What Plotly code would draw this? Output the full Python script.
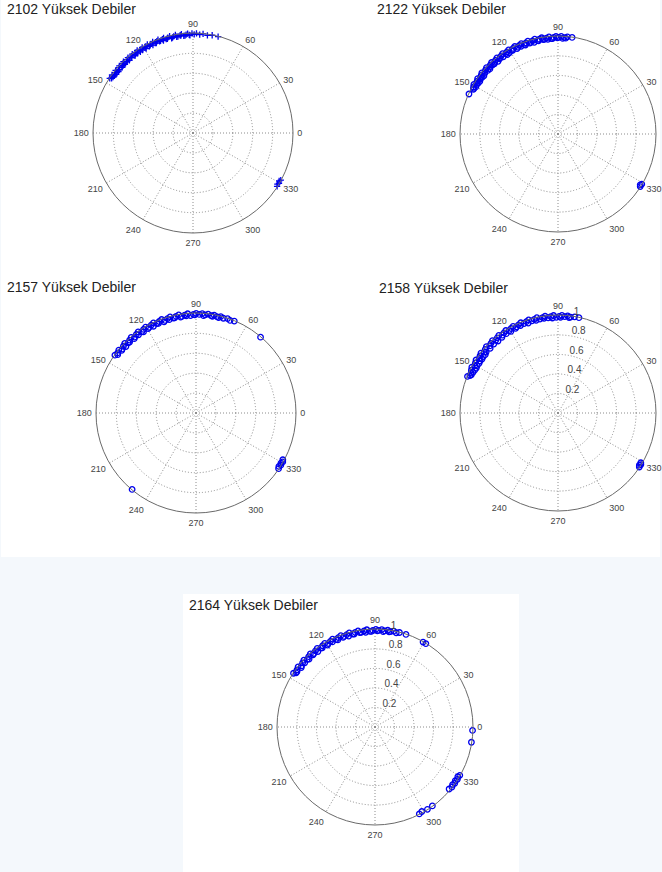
import plotly.graph_objects as go

W, H = 662, 872

# ---------------- data (angles in degrees, rho on 0..1 scale) ----------------
titles = ["2102 Yüksek Debiler", "2122 Yüksek Debiler", "2157 Yüksek Debiler",
          "2158 Yüksek Debiler", "2164 Yüksek Debiler"]

theta_2102 = [75.4, 78.9, 81.6, 84.2, 86.1, 88.0, 89.3, 90.6, 91.8, 93.1, 94.0, 95.4, 96.7,
              97.5, 98.9, 100.2, 101.3, 102.1, 103.6, 104.8, 105.9, 107.2, 108.1, 109.4,
              110.6, 111.5, 112.8, 113.9, 115.2, 116.0, 117.3, 118.6, 119.4, 120.7, 121.9,
              122.8, 124.1, 125.3, 126.2, 127.6, 128.7, 129.5, 130.8, 132.0, 133.1, 134.3,
              135.2, 136.6, 137.7, 138.5, 139.9, 141.0, 142.2, 143.1, 144.4, 145.6, 146.7,
              92.2, 94.7, 97.1, 99.6, 102.7, 105.2, 107.7, 110.0, 112.2, 114.5, 116.7, 119.0,
              121.3, 123.0, 124.7, 126.9, 129.1, 131.2, 132.6, 134.8, 136.0, 137.2, 139.2,
              140.5, 141.6, 142.7, 144.0, 145.0, 146.1,
              327.6, 328.8, 329.7, 330.9, 331.8]
rho_2102 = [1.0, 1.0, 0.99, 1.0, 0.99, 1.0, 0.99, 1.0, 0.98, 1.0, 0.99, 0.98, 1.0,
            0.99, 0.98, 1.0, 0.99, 0.98, 1.0, 0.99, 0.98, 1.0, 0.99, 0.98,
            1.0, 0.99, 0.98, 1.0, 0.99, 0.98, 1.0, 0.99, 0.98, 1.0, 0.99,
            0.98, 1.0, 0.99, 0.98, 1.0, 0.99, 0.98, 1.0, 0.99, 0.98, 1.0,
            0.99, 0.98, 1.0, 0.99, 0.98, 1.0, 0.99, 0.98, 1.0, 0.99, 1.0,
            0.985, 0.98, 0.985, 0.98, 0.975, 0.98, 0.975, 0.98, 0.975, 0.97, 0.975, 0.97,
            0.975, 0.97, 0.975, 0.97, 0.975, 0.97, 0.975, 0.97, 0.975, 0.97, 0.975,
            0.97, 0.975, 0.97, 0.975, 0.98, 0.985,
            1.0, 0.99, 1.0, 0.99, 1.0]

theta_2122 = [81.7, 84.5, 86.3, 88.1, 89.6, 91.2, 92.5, 94.0, 95.3, 96.9, 98.2, 99.6, 101.1,
              102.4, 103.8, 105.3, 106.5, 108.0, 109.4, 110.7, 112.1, 113.6, 114.8, 116.3,
              117.7, 119.0, 120.4, 121.9, 123.1, 124.6, 126.0, 127.3, 128.7, 130.2, 131.5,
              132.9, 134.4, 135.6, 137.1, 138.5, 139.8, 141.3, 142.6, 144.0, 145.4, 146.8,
              148.1, 149.5, 150.9, 152.2, 155.8,
              85.4, 87.2, 90.4, 93.3, 96.1, 98.9, 101.8, 104.5, 107.2, 110.1, 112.8, 115.6,
              118.4, 120.9, 122.5, 125.3, 127.9, 129.5, 132.2, 133.6, 136.3, 137.8, 140.5,
              141.9, 143.3, 144.7, 146.1, 147.4, 148.8, 150.2, 151.5,
              327.4, 328.3, 329.1]
rho_2122 = [1.0, 1.0, 0.99, 1.0, 0.99, 1.0, 0.99, 0.98, 1.0, 0.99, 0.98, 1.0, 0.99,
            0.98, 1.0, 0.99, 0.98, 1.0, 0.99, 0.98, 1.0, 0.99, 0.98, 1.0,
            0.99, 0.98, 1.0, 0.99, 0.98, 1.0, 0.99, 0.98, 1.0, 0.99, 0.98,
            1.0, 0.99, 0.98, 1.0, 0.99, 0.98, 1.0, 0.99, 0.98, 1.0, 0.99,
            0.98, 1.0, 0.99, 0.98, 1.0,
            0.985, 0.98, 0.985, 0.98, 0.975, 0.98, 0.975, 0.97, 0.975, 0.97, 0.975, 0.97,
            0.975, 0.97, 0.965, 0.97, 0.975, 0.965, 0.97, 0.975, 0.965, 0.97, 0.975,
            0.965, 0.97, 0.975, 0.965, 0.97, 0.975, 0.97, 0.98,
            1.0, 0.99, 1.0]

theta_2157 = [49.6, 67.4, 69.8, 71.5, 73.9, 75.6, 77.8, 79.5, 81.2, 83.0, 84.7, 86.4, 88.1,
              89.9, 91.5, 93.2, 94.8, 96.6, 98.3, 100.0, 101.7, 103.4, 105.1, 106.8, 108.5,
              110.2, 111.9, 113.6, 115.3, 117.0, 118.7, 120.4, 122.1, 123.8, 125.5, 127.2,
              128.9, 130.6, 132.3, 134.0, 135.7, 137.4, 139.1, 140.8, 142.5, 144.5,
              76.7, 80.4, 85.6, 90.7, 95.7, 99.1, 102.6, 106.0, 109.3, 112.7, 116.1, 119.5,
              122.9, 126.3, 129.7, 133.1, 136.5, 139.9, 143.3,
              230.1, 326.0, 327.2, 328.4, 329.5, 330.6, 331.7]
rho_2157 = [1.0, 1.0, 0.99, 1.0, 0.99, 1.0, 0.99, 1.0, 0.99, 1.0, 0.99, 1.0, 0.99,
            1.0, 0.99, 0.98, 1.0, 0.99, 0.98, 1.0, 0.99, 0.98, 1.0, 0.99, 0.98,
            1.0, 0.99, 0.98, 1.0, 0.99, 0.98, 1.0, 0.99, 0.98, 1.0, 0.99,
            0.98, 1.0, 0.99, 0.98, 1.0, 0.99, 0.98, 1.0, 0.99, 1.0,
            0.985, 0.985, 0.98, 0.985, 0.98, 0.975, 0.98, 0.975, 0.97, 0.975, 0.97, 0.975,
            0.97, 0.975, 0.97, 0.975, 0.97, 0.975, 0.98,
            1.0, 1.0, 0.99, 1.0, 0.99, 1.0, 0.99]

theta_2158 = [77.6, 80.2, 82.5, 84.3, 86.0, 87.7, 89.3, 91.0, 92.6, 94.3, 95.9, 97.6, 99.2,
              100.9, 102.5, 104.2, 105.8, 107.5, 109.1, 110.8, 112.4, 114.1, 115.7, 117.4,
              119.0, 120.7, 122.3, 124.0, 125.6, 127.3, 128.9, 130.6, 132.2, 133.9, 135.5,
              137.2, 138.8, 140.5, 142.1, 143.8, 145.4, 147.1, 148.7, 150.4, 152.0, 153.7,
              155.3, 158.0,
              83.4, 88.5, 93.4, 98.4, 103.3, 108.3, 113.2, 116.6, 120.0, 123.1, 126.5, 129.8,
              133.0, 136.4, 139.7, 141.3, 142.9, 144.6, 146.3, 147.9, 149.6, 151.2, 152.8,
              154.5, 156.2, 157.0,
              326.4, 327.3, 328.1, 329.0]
rho_2158 = [1.0, 1.0, 0.99, 1.0, 0.99, 1.0, 0.99, 0.98, 1.0, 0.99, 0.98, 1.0, 0.99,
            0.98, 1.0, 0.99, 0.98, 1.0, 0.99, 0.98, 1.0, 0.99, 0.98, 1.0,
            0.99, 0.98, 1.0, 0.99, 0.98, 1.0, 0.99, 0.98, 1.0, 0.99, 0.98,
            1.0, 0.99, 0.98, 1.0, 0.99, 0.98, 1.0, 0.99, 0.98, 1.0, 0.99,
            0.98, 1.0,
            0.985, 0.98, 0.975, 0.98, 0.975, 0.97, 0.975, 0.97, 0.965, 0.97, 0.965, 0.96,
            0.965, 0.96, 0.965, 0.955, 0.96, 0.955, 0.96, 0.955, 0.96, 0.955, 0.96,
            0.965, 0.97, 0.98,
            1.0, 0.99, 1.0, 0.99]

theta_2164 = [58.6, 60.5, 71.5, 75.5, 77.3, 79.0, 80.8, 82.5, 84.3, 86.0, 87.8, 89.5, 91.3,
              93.0, 94.8, 96.5, 98.3, 100.0, 101.8, 103.5, 105.3, 107.0, 108.8, 110.5,
              112.3, 114.0, 115.8, 117.5, 119.3, 121.0, 122.8, 124.5, 126.3, 128.0, 129.8,
              131.5, 133.3, 135.0, 136.8, 138.5, 140.3, 142.0, 143.8, 145.5, 146.6,
              81.6, 85.1, 88.6, 92.1, 95.6, 99.1, 102.6, 106.1, 109.6, 113.1, 116.6, 120.1,
              123.6, 127.1, 130.6, 134.1, 137.6, 141.1, 144.6,
              358.0, 351.0, 330.3, 329.0, 327.6, 326.2, 324.8, 323.4, 322.0, 320.1,
              306.0, 302.5, 299.0, 297.0]
rho_2164 = [1.0, 1.0, 1.0, 1.0, 0.99, 1.0, 0.99, 1.0, 0.99, 1.0, 0.99, 1.0, 0.99,
            0.98, 1.0, 0.99, 0.98, 1.0, 0.99, 0.98, 1.0, 0.99, 0.98, 1.0,
            0.99, 0.98, 1.0, 0.99, 0.98, 1.0, 0.99, 0.98, 1.0, 0.99, 0.98,
            1.0, 0.99, 0.98, 1.0, 0.99, 0.98, 1.0, 0.99, 0.98, 1.0,
            0.985, 0.98, 0.985, 0.98, 0.975, 0.98, 0.975, 0.97, 0.975, 0.97, 0.975, 0.97,
            0.975, 0.97, 0.975, 0.97, 0.975, 0.97, 0.98,
            1.0, 1.0, 1.0, 0.99, 1.0, 0.99, 1.0, 0.99, 1.0, 0.99,
            1.0, 1.0, 0.99, 1.0]

thetas = [theta_2102, theta_2122, theta_2157, theta_2158, theta_2164]
rhos = [rho_2102, rho_2122, rho_2157, rho_2158, rho_2164]
symbols = ["cross-thin-open", "circle-open", "circle-open", "circle-open", "circle-open"]
show_radial_labels = [False, False, False, True, True]
show_zero_label = [True, False, True, False, True]

angle_ticks = [0, 30, 60, 90, 120, 150, 180, 210, 240, 270, 300, 330]
radial_ticks = [0.2, 0.4, 0.6, 0.8, 1.0]
radial_ticktext = ["0.2<br> ", "0.4<br> ", "0.6<br> ", "0.8<br> ", "1<br> "]

# ---------------- layout geometry (pixels) ----------------
centers = [(193, 133, 100), (558, 134, 98), (196, 413, 100), (558, 413, 98), (375, 727, 98)]
title_pos = [(5, 9), (375, 9), (5, 287), (377, 288), (187, 605)]
RADIAL_ANGLE = 84

fig = go.Figure()
layout = dict(
    width=W, height=H, margin=dict(l=0, r=0, t=0, b=0),
    paper_bgcolor="#f4f8fc", showlegend=False,
    font=dict(family="Liberation Sans, Arial, sans-serif", color="#333333"),
    shapes=[
        dict(type="rect", xref="paper", yref="paper", x0=1 / W, x1=660 / W,
             y0=1 - 557 / H, y1=1, fillcolor="white", line=dict(width=0), layer="below"),
        dict(type="rect", xref="paper", yref="paper", x0=183 / W, x1=519 / W,
             y0=0, y1=1 - 594 / H, fillcolor="white", line=dict(width=0), layer="below"),
    ],
    annotations=[],
)

for i in range(5):
    key = "polar" if i == 0 else f"polar{i + 1}"
    cx, cy, R = centers[i]
    fig.add_trace(go.Scatterpolar(
        r=rhos[i], theta=thetas[i], mode="markers", subplot=key,
        marker=dict(symbol=symbols[i], size=4.5 if i == 0 else 5.5, color="#0000ee",
                    line=dict(color="#0000ee", width=1.3)),
        hoverinfo="skip",
    ))
    ticktext = [str(a) for a in angle_ticks]
    if not show_zero_label[i]:
        ticktext[0] = ""
    layout[key] = dict(
        domain=dict(x=[(cx - R) / W, (cx + R) / W], y=[1 - (cy + R) / H, 1 - (cy - R) / H]),
        bgcolor="white",
        radialaxis=dict(
            range=[0, 1.004], tickmode="array", tickvals=radial_ticks, ticktext=radial_ticktext,
            showticklabels=show_radial_labels[i], showline=False, ticks="",
            angle=RADIAL_ANGLE, side="clockwise", tickangle=RADIAL_ANGLE,
            gridcolor="#8c8c8c", griddash="1px,2px", gridwidth=1,
            tickfont=dict(size=10, color="#444444"),
        ),
        angularaxis=dict(
            rotation=0, direction="counterclockwise", tickmode="array",
            tickvals=angle_ticks, ticktext=ticktext,
            showline=True, linecolor="#6a6a6a", linewidth=1,
            gridcolor="#8c8c8c", griddash="1px,2px", gridwidth=1,
            ticks="outside", ticklen=2, tickcolor="rgba(0,0,0,0)",
            tickfont=dict(size=9, color="#444444"),
        ),
    )
    tx, ty = title_pos[i]
    layout["annotations"].append(dict(
        text=titles[i], xref="paper", yref="paper", x=tx / W, y=1 - ty / H,
        xanchor="left", yanchor="middle", showarrow=False,
        font=dict(size=14, color="#222222", family="Liberation Sans, Arial, sans-serif"),
    ))

fig.update_layout(**layout)
fig.write_html("out.html")
